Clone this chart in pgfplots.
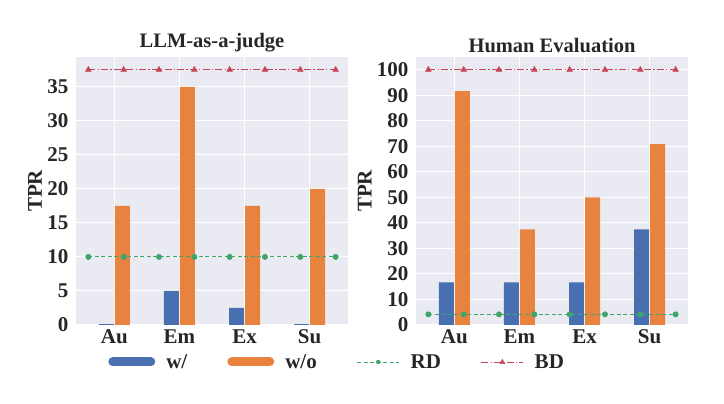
\documentclass[border=0pt]{standalone}
\usepackage{pgfplots}
\usepackage{pgfplotstable}
\pgfplotsset{compat=1.18}
\usepackage{fontspec}
\setmainfont{Liberation Serif}
\definecolor{cblue}{HTML}{4870B0}
\definecolor{corange}{HTML}{E8823F}
\definecolor{cgreen}{HTML}{3FA56A}
\definecolor{cred}{HTML}{C8465A}
\definecolor{bg}{HTML}{EAEAF2}

\pgfplotstableread{
x wo w
0 17.5 0.12
1 35 5
2 17.5 2.5
3 20 0.12
}\leftdata
\pgfplotstableread{
x wo w
0 91.67 16.67
1 37.5 16.67
2 50 16.67
3 70.83 37.5
}\rightdata
\pgfplotstableread{
x rdl bdl rdr bdr
-0.4 10 37.5 4.17 100
0.142857 10 37.5 4.17 100
0.685714 10 37.5 4.17 100
1.228571 10 37.5 4.17 100
1.771429 10 37.5 4.17 100
2.314286 10 37.5 4.17 100
2.857143 10 37.5 4.17 100
3.4 10 37.5 4.17 100
}\linedata

\tikzset{
  rdstyle/.style={cgreen, line width=0.9pt, dash pattern=on 4pt off 2.5pt},
  bdstyle/.style={cred, line width=0.9pt, dash pattern=on 7pt off 2.2pt on 1.3pt off 2.2pt},
}

\pgfplotsset{
  myaxis/.style={
    scale only axis,
    width=272pt, height=268pt,
    xmin=-0.59, xmax=3.59, ymin=0,
    axis background/.style={fill=bg},
    axis line style={draw=none},
    major tick length=0pt,
    xtick={0,1,2,3},
    xticklabels={Au,Em,Ex,Su},
    grid=major,
    major grid style={white, line width=1pt},
    tick label style={font=\fontsize{21}{23}\selectfont\bfseries, text=black!85},
    /pgf/number format/assume math mode=true,
    xticklabel style={yshift=-1pt},
    yticklabel style={xshift=-4pt},
    label style={font=\fontsize{21}{23}\selectfont\bfseries, text=black!85},
    title style={font=\fontsize{20.5}{23}\selectfont\bfseries, text=black!85, at={(axis description cs:0.5,1)}, anchor=south, yshift=-5pt},
  },
}

\begin{document}
\begin{tikzpicture}
\path[use as bounding box] (0pt,0pt) rectangle (724pt,404pt);
\begin{axis}[myaxis, at={(76pt,79pt)}, anchor=south west,
  ymax=39.375, ytick={0,5,...,35},
  title={LLM-as-a-judge},
  ylabel={TPR},
  ylabel style={at={(axis description cs:-0.151,0.5)}, anchor=center, rotate=0},
]
\addplot[ybar, bar width=15pt, bar shift=-8pt, fill=cblue, draw=none] table[x=x, y=w] {\leftdata};
\addplot[ybar, bar width=15pt, bar shift=8pt, fill=corange, draw=none] table[x=x, y=wo] {\leftdata};
\addplot[rdstyle, mark=*, mark size=2.5pt, mark options={solid}] table[x=x, y=rdl] {\linedata};
\addplot[bdstyle, mark=triangle*, mark size=3pt, mark options={solid}] table[x=x, y=bdl] {\linedata};
\end{axis}
\begin{axis}[myaxis, at={(416pt,79pt)}, anchor=south west,
  ymax=105, ytick={0,10,...,100},
  title={Human Evaluation},
  ylabel={TPR},
  ylabel style={at={(axis description cs:-0.188,0.5)}, anchor=center, rotate=0},
  legend columns=4,
  legend style={at={(axis description cs:-0.29,-0.138)}, anchor=center, draw=none, fill=none,
    font=\fontsize{21}{23}\selectfont\bfseries, text=black!85,
    /tikz/every odd column/.append style={column sep=9pt},
    /tikz/every even column/.append style={column sep=38pt}},
  legend cell align=left,
]
\addplot[ybar, bar width=15pt, bar shift=-8pt, fill=cblue, draw=none, forget plot] table[x=x, y=w] {\rightdata};
\addplot[ybar, bar width=15pt, bar shift=8pt, fill=corange, draw=none, forget plot] table[x=x, y=wo] {\rightdata};
\addplot[rdstyle, mark=*, mark size=2.5pt, mark options={solid}, forget plot] table[x=x, y=rdr] {\linedata};
\addplot[bdstyle, mark=triangle*, mark size=3pt, mark options={solid}, forget plot] table[x=x, y=bdr] {\linedata};
\addlegendimage{legend image code/.code={\draw[line width=9pt, line cap=round, cblue] (4.5pt,0pt) -- (42.5pt,0pt);}}
\addlegendentry{w/}
\addlegendimage{legend image code/.code={\draw[line width=9pt, line cap=round, corange] (4.5pt,0pt) -- (42.5pt,0pt);}}
\addlegendentry{w/o}
\addlegendimage{legend image code/.code={\draw[rdstyle, line width=0.8pt] (0pt,0pt) -- (42pt,0pt); \fill[cgreen] (21pt,0pt) circle (2pt);}}
\addlegendentry{RD}
\addlegendimage{legend image code/.code={\draw[bdstyle, line width=0.8pt] (0pt,0pt) -- (42pt,0pt); \fill[cred] (18.5pt,-1.7pt) -- (23.5pt,-1.7pt) -- (21pt,2.7pt) -- cycle;}}
\addlegendentry{BD}
\end{axis}
\end{tikzpicture}
\end{document}
